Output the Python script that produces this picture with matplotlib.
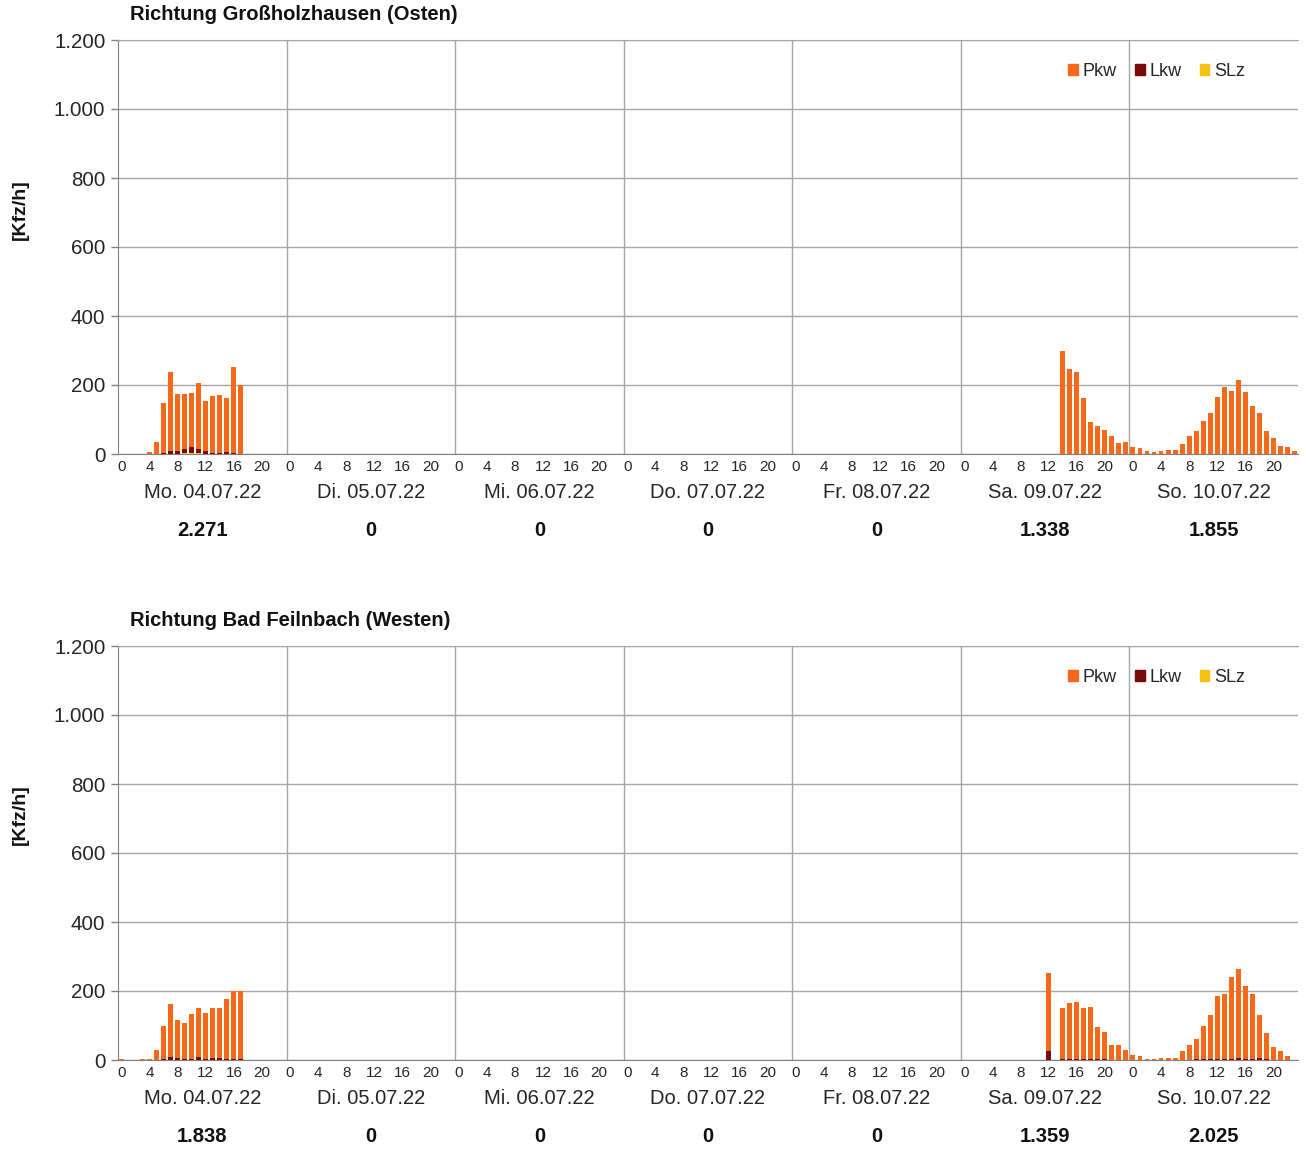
import matplotlib
matplotlib.use("Agg")
import matplotlib.pyplot as plt
import numpy as np
from matplotlib.ticker import FuncFormatter, FixedLocator
from matplotlib.patches import Patch

plt.rcParams['font.family'] = ['Liberation Sans', 'DejaVu Sans']

# ---------------- data ----------------
days = ["Mo. 04.07.22", "Di. 05.07.22", "Mi. 06.07.22", "Do. 07.07.22",
        "Fr. 08.07.22", "Sa. 09.07.22", "So. 10.07.22"]
hour_labels = ["0", "4", "8", "12", "16", "20"]

titles = ["Richtung Großholzhausen (Osten)", "Richtung Bad Feilnbach (Westen)"]
totals_ost = ["2.271", "0", "0", "0", "0", "1.338", "1.855"]
totals_west = ["1.838", "0", "0", "0", "0", "1.359", "2.025"]

# Richtung Osten, hourly values (24 per day)
ost_pkw_mo = [0, 0, 0, 0, 5, 36, 144, 229, 165, 161, 159, 190, 146, 165, 168, 155, 250, 200,
              0, 0, 0, 0, 0, 0]
ost_lkw_mo = [0, 0, 0, 0, 0, 0, 3, 8, 8, 12, 15, 12, 8, 3, 3, 6, 3, 0,
              0, 0, 0, 0, 0, 0]
ost_slz_mo = [0, 0, 0, 0, 0, 0, 0, 0, 0, 2, 4, 3, 0, 0, 0, 0, 0, 0,
              0, 0, 0, 0, 0, 0]
ost_pkw_sa = [0, 0, 0, 0, 0, 0, 0, 0, 0, 0, 0, 0, 0, 0, 297, 246, 237, 160,
              91, 81, 69, 51, 33, 36]
ost_lkw_sa = [0, 0, 0, 0, 0, 0, 0, 0, 0, 0, 0, 0, 0, 0, 1, 1, 1, 1,
              1, 1, 1, 1, 0, 0]
ost_pkw_so = [21, 16, 10, 5, 8, 11, 11, 29, 51, 66, 95, 119, 163, 194, 183, 214, 178, 138,
              117, 66, 45, 24, 21, 9]
ost_lkw_so = [0, 0, 0, 0, 0, 0, 0, 0, 1, 1, 1, 1, 1, 1, 1, 1, 1, 1,
              1, 1, 0, 0, 0, 0]

# Richtung Westen
west_pkw_mo = [3, 0, 0, 2, 3, 28, 96, 153, 110, 105, 129, 142, 131, 144, 145, 172, 196, 197,
               0, 0, 0, 0, 0, 0]
west_lkw_mo = [0, 0, 0, 0, 0, 1, 4, 8, 6, 3, 3, 8, 4, 6, 5, 4, 4, 3,
               0, 0, 0, 0, 0, 0]
west_slz_mo = [0] * 24
west_pkw_sa = [0, 0, 0, 0, 0, 0, 0, 0, 0, 0, 0, 0, 226, 0, 149, 163, 166, 149,
               152, 95, 80, 43, 43, 29]
west_lkw_sa = [0, 0, 0, 0, 0, 0, 0, 0, 0, 0, 0, 0, 25, 0, 3, 3, 3, 3,
               3, 2, 2, 0, 0, 0]
west_pkw_so = [14, 13, 3, 2, 7, 7, 7, 26, 42, 58, 97, 128, 183, 188, 236, 259, 210, 188,
               125, 75, 37, 27, 13, 0]
west_lkw_so = [0, 0, 0, 0, 0, 0, 0, 1, 1, 2, 2, 2, 3, 3, 4, 5, 4, 3,
               5, 2, 0, 0, 0, 0]

# ---------------- helpers ----------------
zeros = [0] * 24


def week(mo, sa, so):
    return np.array(mo + zeros * 4 + sa + so, dtype=float)


series = [
    dict(pkw=week(ost_pkw_mo, ost_pkw_sa, ost_pkw_so),
         lkw=week(ost_lkw_mo, ost_lkw_sa, ost_lkw_so),
         slz=week(ost_slz_mo, zeros, zeros),
         totals=totals_ost),
    dict(pkw=week(west_pkw_mo, west_pkw_sa, west_pkw_so),
         lkw=week(west_lkw_mo, west_lkw_sa, west_lkw_so),
         slz=week(west_slz_mo, zeros, zeros),
         totals=totals_west),
]

C_PKW = "#F7691A"
C_LKW = "#7A0A0A"
C_SLZ = "#F5C211"
GRID = "#A6A6A6"
TXT = "#262626"

W, H = 1306, 1150
fig = plt.figure(figsize=(W / 100, H / 100), dpi=100)


def fx(px):
    return px / W


def fy(py):
    return 1 - py / H


axes_top_px = [40, 646]
axes_bot_px = [454, 1060]
title_y_px = [15, 621]
ylabel_y_px = [210, 815]
legend_y_px = [71, 677]

ax_left, ax_right = 118, 1298

for k in range(2):
    d = series[k]
    ax = fig.add_axes([fx(ax_left), fy(axes_bot_px[k]),
                       fx(ax_right - ax_left), (axes_bot_px[k] - axes_top_px[k]) / H])
    x = np.arange(168) + 0.5
    ax.bar(x, d['slz'], width=0.7, color=C_SLZ, zorder=3)
    ax.bar(x, d['lkw'], width=0.7, bottom=d['slz'], color=C_LKW, zorder=3)
    ax.bar(x, d['pkw'], width=0.7, bottom=d['slz'] + d['lkw'], color=C_PKW, zorder=3)

    ax.set_xlim(0, 168)
    ax.set_ylim(0, 1200)
    ax.yaxis.set_major_locator(FixedLocator(np.arange(0, 1201, 200)))
    ax.yaxis.set_major_formatter(FuncFormatter(lambda v, p: f"{int(v):,}".replace(",", ".")))
    ax.grid(axis='y', color=GRID, linewidth=1.0, zorder=0)

    # day separators
    for dd in range(1, 7):
        ax.axvline(24 * dd, color=GRID, linewidth=1.0, zorder=0)

    # hour ticks
    tpos = [24 * dd + h + 0.5 for dd in range(7) for h in range(0, 24, 4)]
    tlab = [hour_labels[h // 4] for dd in range(7) for h in range(0, 24, 4)]
    ax.set_xticks(tpos)
    ax.set_xticklabels(tlab, fontsize=11, color=TXT)
    ax.tick_params(axis='x', length=0, pad=4)
    ax.tick_params(axis='y', length=5, direction='out', labelsize=14.8, colors=TXT,
                   pad=4, width=1)
    ax.tick_params(axis='y', color="#808080")

    ax.spines['right'].set_visible(False)
    ax.spines['top'].set_color(GRID)
    ax.spines['left'].set_color("#808080")
    ax.spines['bottom'].set_color("#808080")

    ax_h = axes_bot_px[k] - axes_top_px[k]
    for dd in range(7):
        ax.text(24 * dd + 12, -39 / ax_h, days[dd], transform=ax.get_xaxis_transform(),
                ha='center', va='center', fontsize=14.5, color=TXT)
        ax.text(24 * dd + 12, -76 / ax_h, d['totals'][dd], transform=ax.get_xaxis_transform(),
                ha='center', va='center', fontsize=14.5, fontweight='bold', color="#111111")

    fig.text(fx(130), fy(title_y_px[k]), titles[k], ha='left', va='center',
             fontsize=14.5, fontweight='bold', color="#111111")
    fig.text(fx(20), fy(ylabel_y_px[k]), "[Kfz/h]", ha='center', va='center',
             rotation=90, fontsize=14, fontweight='bold', color="#111111")

    handles = [Patch(color=C_PKW, label="Pkw"), Patch(color=C_LKW, label="Lkw"),
               Patch(color=C_SLZ, label="SLz")]
    fig.legend(handles=handles, loc='center right',
               bbox_to_anchor=(fx(1245), fy(legend_y_px[k])), ncol=3, frameon=False,
               fontsize=13, handlelength=0.55, handleheight=0.55, handletextpad=0.25,
               columnspacing=1.0, borderpad=0, borderaxespad=0, labelcolor=TXT)

fig.savefig("out.png", dpi=100)
